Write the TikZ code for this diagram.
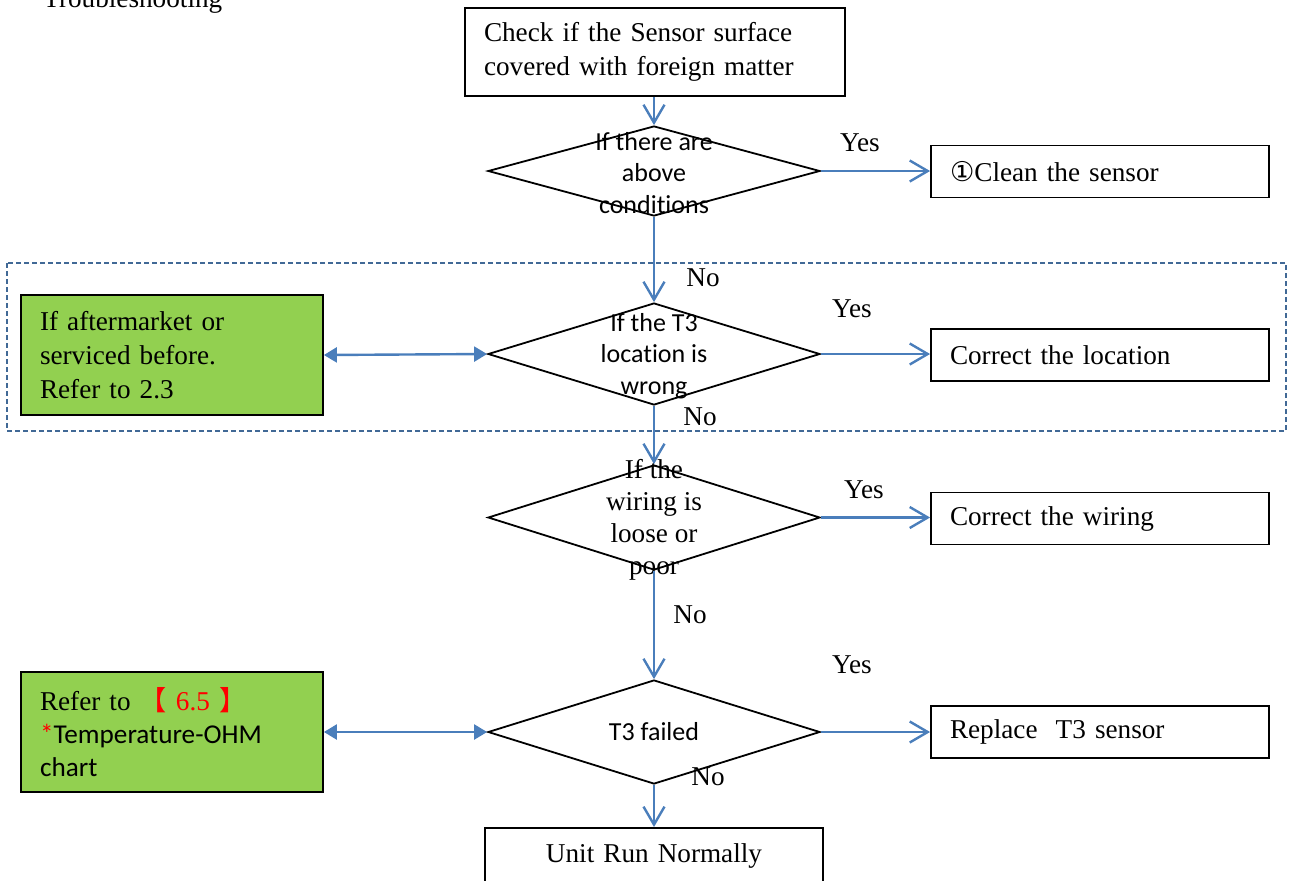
\documentclass[tikz,border=0pt]{standalone}
\usepackage{fontspec}
\setmainfont{Liberation Serif}
\newfontfamily\calibri[Ligatures=NoCommon]{Carlito}
\newfontfamily\cjk{Noto Sans CJK SC}
\newfontfamily\dejavu{DejaVu Sans}
\usetikzlibrary{shapes.geometric,arrows.meta}

\definecolor{flowblue}{RGB}{74,126,187}
\definecolor{dashblue}{RGB}{65,105,150}
\definecolor{notegreen}{RGB}{146,208,80}

\tikzset{
  every node/.style={font=\fontsize{13.6}{17}\selectfont},
  stepbox/.style={draw, line width=0.9pt, inner xsep=9.5pt, inner ysep=0pt, align=left},
  notebox/.style={stepbox, fill=notegreen, text width=132pt, minimum height=60pt},
  sidebox/.style={stepbox, text width=150pt, minimum height=26pt},
  decision/.style={diamond, draw, line width=0.9pt, inner sep=0pt, minimum width=166pt},
  dtext/.style={align=center, inner sep=0pt, font=\calibri\fontsize{13}{15.75}\selectfont},
  flow/.style={draw=flowblue, line width=1.2pt, -{Straight Barb[length=9pt,width=10.5pt]}},
  link/.style={draw=flowblue, line width=1.2pt,
    {Triangle[length=6.5pt,width=7.5pt]}-{Triangle[length=6.5pt,width=7.5pt]}},
  lbl/.style={inner sep=0pt}
}

\begin{document}
\begin{tikzpicture}[x=0.5pt, y=-0.5pt]
  \useasboundingbox (0,0) rectangle (1292,880);
  \clip (0,0) rectangle (1292,880);

  \node[anchor=base west, inner sep=0pt] (title) at (43,7) {Troubleshooting};

  \draw[dashblue, line width=0.75pt, dash pattern=on 2.5pt off 1.5pt] (7,263) rectangle (1286,431);

  \node[stepbox, text width=171pt, minimum height=44pt] (check) at (655,52)
    {Check if the Sensor surface\\covered with foreign matter};

  \node[decision, minimum height=45pt] (cond) at (654,171) {};
  \node[dtext] (condtext) at ([yshift=-1pt]cond.center) {If there are\\above\\conditions};
  \node[sidebox] (clean) at (1100,171.5) {{\dejavu ①}Clean the sensor};

  \node[decision, minimum height=51pt] (loc) at (654,354) {};
  \node[dtext] (loctext) at ([yshift=-1pt]loc.center) {If the T3\\location is\\wrong};
  \node[sidebox] (fixloc) at (1100,355) {Correct the location};
  \node[notebox] (after) at (172,355)
    {If aftermarket or\\serviced before.\\Refer to 2.3};

  \node[decision, minimum height=52.5pt] (wire) at (654,517.5) {};
  \node[dtext, font=\fontsize{13.6}{16}\selectfont] (wiretext) at ([yshift=-1pt]wire.center)
    {If the\\wiring is\\loose or\\poor};
  \node[sidebox] (fixwire) at (1100,518.5) {Correct the wiring};

  \node[decision, minimum height=52pt] (fail) at (654,732) {};
  \node[dtext] (failtext) at (fail.center) {T3 failed};
  \node[sidebox] (replace) at (1100,732) {Replace~ T3 sensor};
  \node[notebox, font=\fontsize{13.6}{16.5}\selectfont] (chart) at (172,732)
    {Refer to \textcolor{red}{{\cjk 【} 6.5 {\cjk 】}}\\
     {\calibri\textcolor{red}{*}Temperature-OHM}\\
     {\calibri chart}};

  \node[stepbox, anchor=north, text width=150pt, align=center, minimum height=28pt] (normal)
    at (654,827) {Unit Run Normally};

  \node[lbl] (yes1) at (860,143) {Yes};
  \node[lbl] (no1) at (703,278) {No};
  \node[lbl] (yes2) at (852,309) {Yes};
  \node[lbl] (no2) at (700,417) {No};
  \node[lbl] (yes3) at (864,490) {Yes};
  \node[lbl] (no3) at (690,615) {No};
  \node[lbl] (yes4) at (852,665) {Yes};
  \node[lbl] (no4) at (708,777) {No};

  \draw[flow] (check.south -| cond.north) -- (cond.north);
  \draw[flow] (cond.east) -- (cond.east -| clean.west);
  \draw[flow] (cond.south) -- (loc.north);
  \draw[flow] (loc.east) -- (loc.east -| fixloc.west);
  \draw[link] (after.east) -- (loc.west);
  \draw[flow] (loc.south) -- (wire.north);
  \draw[flow] (wire.east) -- (wire.east -| fixwire.west);
  \draw[flow] (wire.south) -- (fail.north);
  \draw[flow] (fail.east) -- (replace.west);
  \draw[link] (chart.east) -- (fail.west);
  \draw[flow] (fail.south) -- (normal.north);
\end{tikzpicture}
\end{document}
